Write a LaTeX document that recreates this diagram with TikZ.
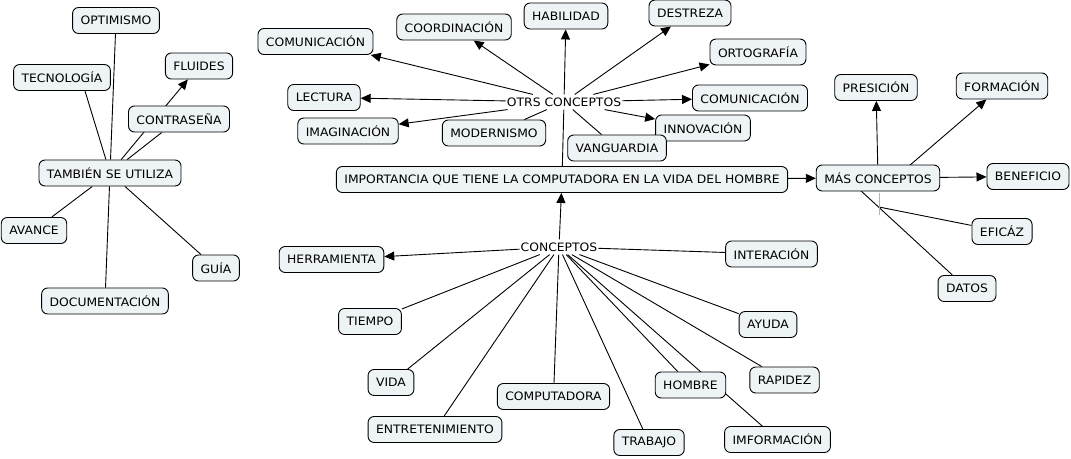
\documentclass[tikz,border=0pt]{standalone}
\usepackage{fontspec}
\setmainfont[FakeStretch=1.065]{DejaVu Sans}
\usetikzlibrary{arrows.meta,backgrounds}
\definecolor{fondocaja}{RGB}{238,244,246}
\tikzset{
    concepto/.style={draw, fill=fondocaja, rounded corners=6pt, line width=0.9pt,
        inner xsep=8pt, inner ysep=3pt, minimum height=26pt,
        font=\fontsize{11.6}{13}\selectfont},
    enlace/.style={inner xsep=1pt, inner ysep=3pt, font=\fontsize{11.6}{13}\selectfont},
    linea/.style={line width=0.9pt},
    flecha/.style={linea, -{Triangle[length=10pt,width=9pt]}},
}
\begin{document}
\begin{tikzpicture}[x=1pt, y=-1pt]
    \useasboundingbox (0,0) rectangle (1071,458);

    \begin{scope}
        \node[concepto] (optimismo) at (116,20.5) {OPTIMISMO};
        \node[concepto] (tecnologia) at (62,77.5) {TECNOLOGÍA};
        \node[concepto] (fluides) at (199,66) {FLUIDES};
        \node[concepto] (contrasena) at (179,119) {CONTRASEÑA};
        \node[concepto] (tambien) at (110,173) {TAMBIÉN SE UTILIZA};
        \node[concepto] (avance) at (34,230.5) {AVANCE};
        \node[concepto] (guia) at (216,268) {GUÍA};
        \node[concepto] (documentacion) at (105,301) {DOCUMENTACIÓN};
    \end{scope}

    \begin{scope}
        \node[enlace] (otros) at (564,102) {OTRS CONCEPTOS};
        \node[concepto] (comunicacionA) at (315.5,41.5) {COMUNICACIÓN};
        \node[concepto] (coordinacion) at (454,27) {COORDINACIÓN};
        \node[concepto] (habilidad) at (566,16) {HABILIDAD};
        \node[concepto] (destreza) at (690,13) {DESTREZA};
        \node[concepto] (ortografia) at (758,52) {ORTOGRAFÍA};
        \node[concepto] (comunicacionB) at (750,98) {COMUNICACIÓN};
        \node[concepto] (innovacion) at (703,128) {INNOVACIÓN};
        \node[concepto] (vanguardia) at (617,148) {VANGUARDIA};
        \node[concepto] (modernismo) at (494,133) {MODERNISMO};
        \node[concepto] (imaginacion) at (348,131) {IMAGINACIÓN};
        \node[concepto] (lectura) at (324,97.5) {LECTURA};
    \end{scope}

    \begin{scope}
        \node[concepto] (importancia) at (562,179.5) {IMPORTANCIA QUE TIENE LA COMPUTADORA EN LA VIDA DEL HOMBRE};
        \node[concepto] (masconceptos) at (878,178) {MÁS CONCEPTOS};
        \node[concepto] (presicion) at (876,87.5) {PRESICIÓN};
        \node[concepto] (formacion) at (1002,86) {FORMACIÓN};
        \node[concepto] (beneficio) at (1028,176.5) {BENEFICIO};
        \node[concepto] (eficaz) at (1002,231.5) {EFICÁZ};
        \node[concepto] (datos) at (967,288.5) {DATOS};
        \coordinate (nexo) at (879,207);
    \end{scope}

    \begin{scope}
        \node[enlace] (conceptos) at (559,247) {CONCEPTOS};
        \node[concepto] (herramienta) at (331.5,259.5) {HERRAMIENTA};
        \node[concepto] (tiempo) at (370,321.5) {TIEMPO};
        \node[concepto] (vida) at (391,382.5) {VIDA};
        \node[concepto] (entretenimiento) at (435,429.5) {ENTRETENIMIENTO};
        \node[concepto] (computadora) at (553.5,396.5) {COMPUTADORA};
        \node[concepto] (interacion) at (771.5,254) {INTERACIÓN};
        \node[concepto] (ayuda) at (768,324.5) {AYUDA};
        \node[concepto] (rapidez) at (784.5,380) {RAPIDEZ};
        \node[concepto] (hombre) at (690.5,385) {HOMBRE};
        \node[concepto] (trabajo) at (649,442.5) {TRABAJO};
        \node[concepto] (imformacion) at (777.5,439.5) {IMFORMACIÓN};
    \end{scope}

    \begin{scope}[on background layer]
        \draw[linea] (tambien) -- (optimismo);
        \draw[linea] (tambien) -- ([xshift=23pt]tecnologia.south);
        \draw[flecha] (tambien) -- (fluides);
        \draw[linea] (tambien) -- (contrasena);
        \draw[linea] (tambien) -- (avance);
        \draw[linea] (tambien) -- (guia);
        \draw[linea] (tambien) -- (documentacion);

        \draw[linea] (importancia) -- (otros);
        \draw[flecha] (otros) -- (comunicacionA);
        \draw[flecha] (otros) -- (coordinacion);
        \draw[flecha] (otros) -- (habilidad);
        \draw[flecha] (otros) -- (destreza);
        \draw[flecha] (otros) -- (ortografia);
        \draw[flecha] (otros) -- (comunicacionB);
        \draw[flecha] (otros) -- (innovacion);
        \draw[flecha] (otros) -- (lectura);
        \draw[flecha] (otros) -- (imaginacion);
        \draw[linea] (vanguardia) -- (otros);
        \draw[linea] (modernismo) -- (otros);

        \draw[flecha] (importancia) -- (masconceptos);
        \draw[flecha] (masconceptos) -- (presicion);
        \draw[flecha] ([xshift=17pt]masconceptos.center) -- (formacion);
        \draw[flecha] (masconceptos) -- (beneficio);
        \draw[linea] ([xshift=-31pt]masconceptos.center) -- (datos);
        \draw[linea] (nexo) -- (eficaz);
        \draw[black!30, line width=0.6pt] ([yshift=14pt]nexo) -- ([yshift=-8pt]nexo);

        \draw[flecha] (conceptos) -- (importancia);
        \draw[flecha] (conceptos) -- (herramienta);
        \draw[linea] (conceptos) -- (interacion);
        \draw[linea] (conceptos) -- (tiempo);
        \draw[linea] (conceptos) -- (vida);
        \draw[linea] (conceptos) -- (entretenimiento);
        \draw[linea] (conceptos) -- (computadora);
        \draw[linea] (conceptos) -- (trabajo);
        \draw[linea] (conceptos) -- (hombre);
        \draw[linea] (conceptos) -- (imformacion);
        \draw[linea] (conceptos) -- (rapidez);
        \draw[linea] (conceptos) -- (ayuda);
    \end{scope}
\end{tikzpicture}
\end{document}
